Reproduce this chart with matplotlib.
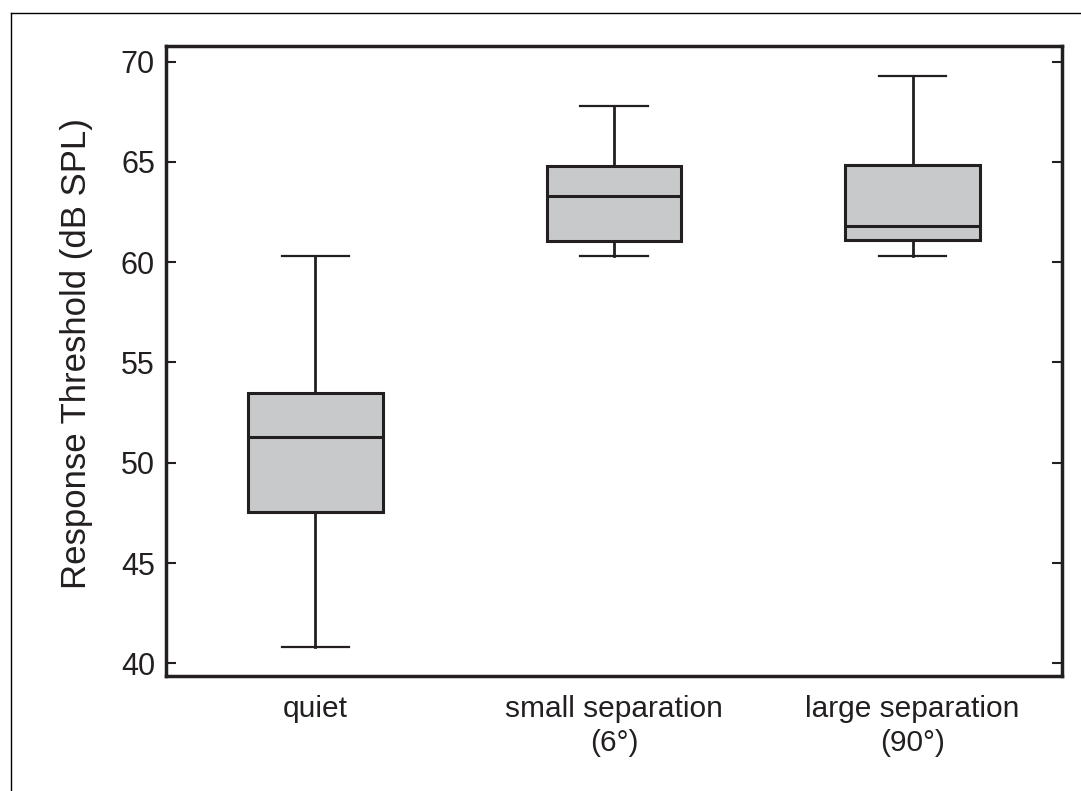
import matplotlib
matplotlib.use("Agg")
import matplotlib.pyplot as plt
from matplotlib.lines import Line2D

plt.rcParams['font.family'] = ['Liberation Sans', 'DejaVu Sans']

categories = ["quiet", "small separation\n(6°)", "large separation\n(90°)"]
whislo = [40.8, 60.3, 60.3]
q1 = [47.55, 61.07, 61.08]
med = [51.3, 63.3, 61.8]
q3 = [53.5, 64.8, 64.82]
whishi = [60.3, 67.8, 69.3]
yticks = [40, 45, 50, 55, 60, 65, 70]

ink = "#231f20"
fill = "#c8c9cb"

fig = plt.figure(figsize=(10.81, 7.91), dpi=100)
ax = fig.add_axes([166/1081, 1 - 676/791, (1062-166)/1081, (676-46.5)/791])

stats = []
for i in range(len(categories)):
    stats.append(dict(label=categories[i], whislo=whislo[i], q1=q1[i], med=med[i],
                      q3=q3[i], whishi=whishi[i], fliers=[]))

ax.bxp(stats, positions=[1, 2, 3], widths=0.45, patch_artist=True,
       showfliers=False,
       boxprops=dict(facecolor=fill, edgecolor=ink, linewidth=2.2),
       medianprops=dict(color=ink, linewidth=2.2),
       whiskerprops=dict(color=ink, linewidth=2.0),
       capprops=dict(color=ink, linewidth=1.6))

ax.set_xlim(0.5, 3.5)
ax.set_ylim(39.37, 70.75)
ax.set_yticks(yticks)
ax.set_yticklabels([str(t) for t in yticks])
ax.set_xticks([1, 2, 3])
ax.set_xticklabels(categories, fontsize=21.5, color=ink, linespacing=1.25)
ax.tick_params(axis='x', length=0, pad=14)
ax.tick_params(axis='y', direction='in', length=7, width=1.5, color=ink,
               labelsize=22, labelcolor=ink, right=True, pad=8)
for s in ax.spines.values():
    s.set_linewidth(2.5)
    s.set_color(ink)

ax.set_ylabel("Response Threshold (dB SPL)", fontsize=25, color=ink)
ax.yaxis.set_label_coords(-(166-93)/896, 0.512)

# figure frame (top and left edges)
fig.add_artist(Line2D([10.5/1081, 1.0], [1 - 13.3/791, 1 - 13.3/791],
                      transform=fig.transFigure, color='black', linewidth=1.0))
fig.add_artist(Line2D([10.5/1081, 10.5/1081], [0.0, 1 - 13.3/791],
                      transform=fig.transFigure, color='black', linewidth=1.0))

fig.savefig("out.png", dpi=100, facecolor='white')
